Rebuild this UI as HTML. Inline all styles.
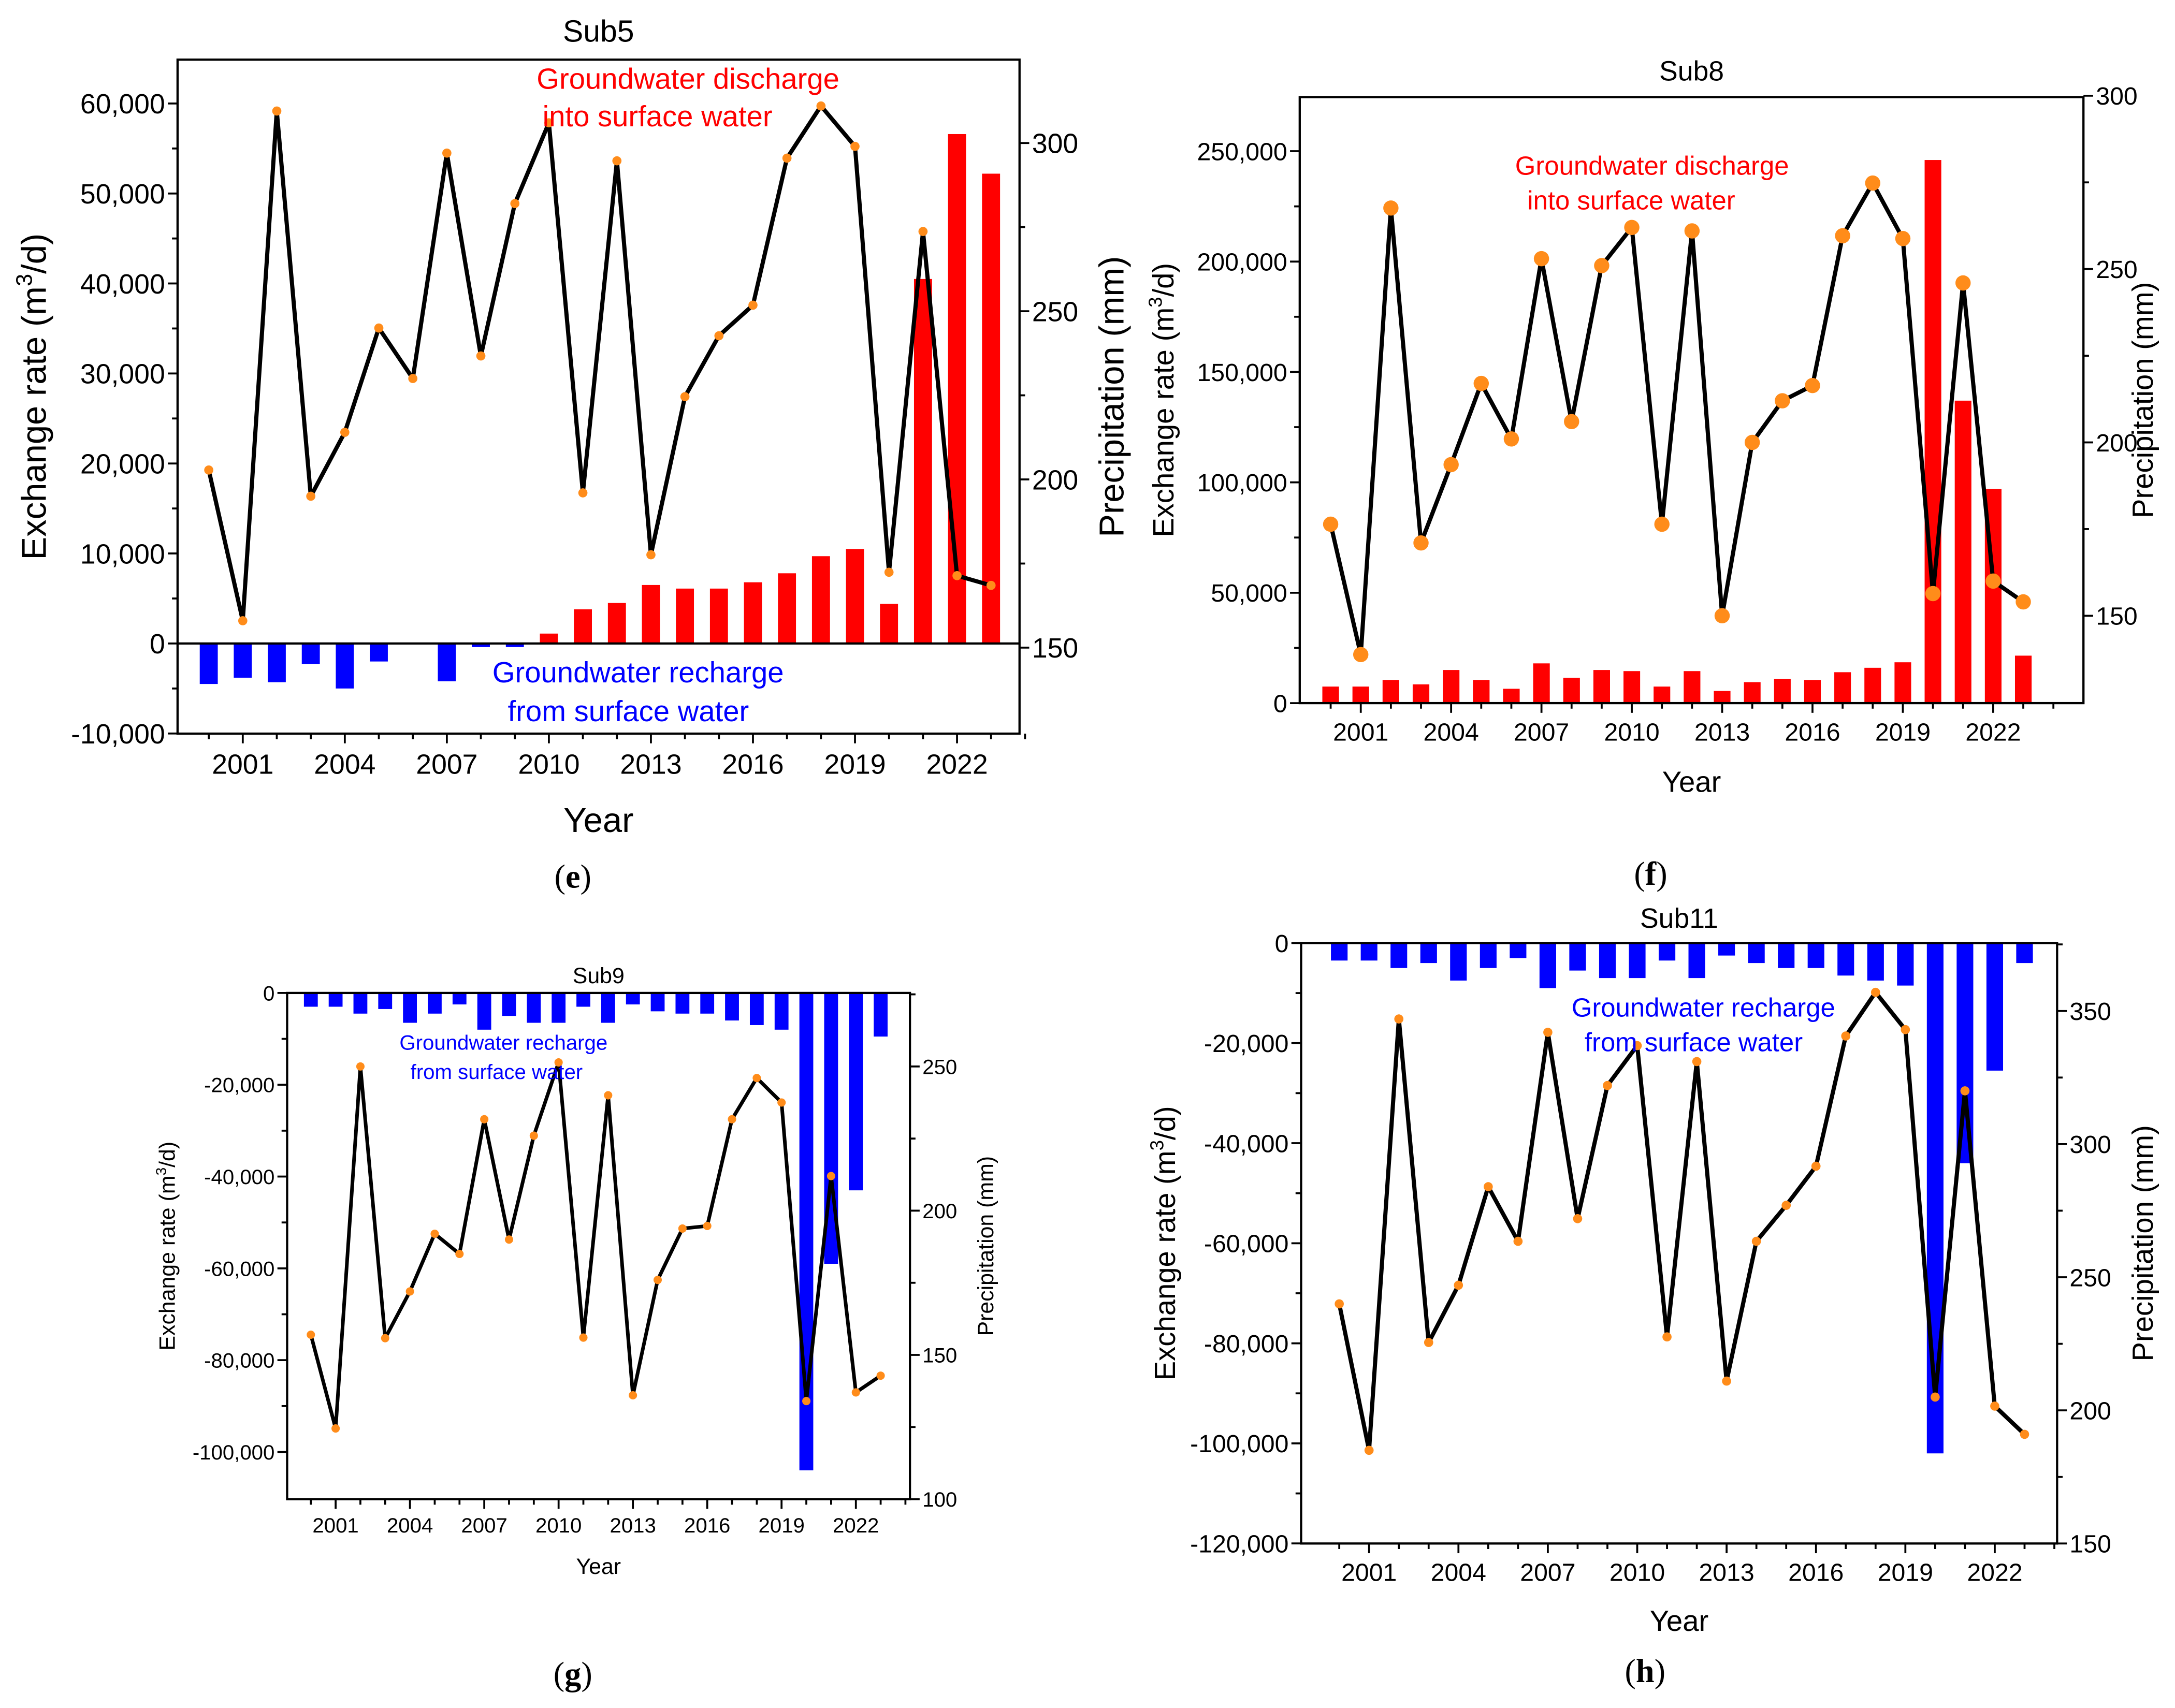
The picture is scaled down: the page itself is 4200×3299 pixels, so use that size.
<!DOCTYPE html>
<html><head><meta charset="utf-8">
<style>
html,body{margin:0;padding:0;background:#fff;}
svg{display:block;}
text{font-family:"Liberation Sans Narrow","Liberation Sans",sans-serif;}
.ttl{font-family:"Liberation Sans",sans-serif;}
.lab{font-family:"Liberation Serif",serif;}
</style></head>
<body>
<svg id="fig" xmlns="http://www.w3.org/2000/svg" width="4200" height="3299" viewBox="0 0 1568 1231.6">
<rect x="0" y="0" width="1568" height="1232" fill="#fff"/>
</svg>
<script>
const years = [2000,2001,2002,2003,2004,2005,2006,2007,2008,2009,2010,2011,2012,2013,2014,2015,2016,2017,2018,2019,2020,2021,2022,2023];
const xTickYears = [2001,2004,2007,2010,2013,2016,2019,2022];

const sub5Exchange = [-4500,-3800,-4300,-2300,-5000,-2000,100,-4200,-400,-400,1100,3800,4500,6500,6100,6100,6800,7800,9700,10500,4400,40500,56600,52200];
const sub5Precip = [202.8,158,309.5,195,214,245,230,297,236.7,282,306,196,294.7,177.6,224.6,242.7,251.8,295.5,311,299,172.4,273.7,171.4,168.5];
const sub5LeftTicks = [-10000,0,10000,20000,30000,40000,50000,60000];
const sub5RightTicks = [150,200,250,300];

const sub8Exchange = [7500,7500,10500,8500,15000,10500,6500,18000,11500,15000,14500,7500,14500,5500,9500,11000,10500,14000,16000,18500,246000,137000,97000,21500];
const sub8Precip = [176.4,138.8,267.6,171,193.6,217,201,253,206,251,262,176.4,261,150,200,212,216.4,259.6,274.8,258.8,156.4,246,160,154];
const sub8LeftTicks = [0,50000,100000,150000,200000,250000];
const sub8RightTicks = [150,200,250,300];

const sub9Exchange = [-3000,-3000,-4500,-3500,-6500,-4500,-2500,-8000,-5000,-6500,-6500,-3000,-6500,-2500,-4000,-4500,-4500,-6000,-7000,-8000,-104000,-59000,-43000,-9500];
const sub9Precip = [157,124.5,250,155.8,172,192,185,231.7,190,226,251.4,156,240,136,176,193.8,194.7,231.7,246,237.5,134,212,137,142.8];
const sub9LeftTicks = [-100000,-80000,-60000,-40000,-20000,0];
const sub9RightTicks = [100,150,200,250];

const sub11Exchange = [-3500,-3500,-5000,-4000,-7500,-5000,-3000,-9000,-5500,-7000,-7000,-3500,-7000,-2500,-4000,-5000,-5000,-6500,-7500,-8500,-102000,-44000,-25500,-4000];
const sub11Precip = [240,185,347,225.5,247,284,263.5,342,272,322,337,227.6,331,211,263.5,277,291.7,340.6,357,343,205,320,201.6,191];
const sub11LeftTicks = [-120000,-100000,-80000,-60000,-40000,-20000,0];
const sub11RightTicks = [150,200,250,300,350];

const NS='http://www.w3.org/2000/svg';
const svg=document.getElementById('fig');
function mk(tag,attrs,parent,txt){const e=document.createElementNS(NS,tag);for(const k in attrs)e.setAttribute(k,attrs[k]);if(txt!==undefined)e.textContent=txt;(parent||svg).appendChild(e);return e;}
function fmt(v){return v.toLocaleString('en-US');}

function panel(c){
  const g=mk('g',{});
  
  
  const xS=y=>c.x0+(y-2000)*c.dx;
  const yL=v=>c.yZero-(v/1000)*c.pxPerK;
  const yR=v=>c.rBase-(v-c.rBaseVal)*c.pxPerUnit;
  c.exch.forEach((v,i)=>{
    const x=xS(years[i]);const y0=yL(0),y1=yL(v);
    const b=mk('rect',{x:x-c.bw/2,y:Math.min(y0,y1),width:c.bw,height:Math.max(0.5,Math.abs(y1-y0)),fill:v>=0?'#ff0000':'#0000ff'},g);
    
    
  });
  const fr=mk('rect',{x:c.L,y:c.T,width:c.R-c.L,height:c.B-c.T,fill:'none',stroke:'#000','stroke-width':1.6},g);
  
  
  if(c.zeroLine){mk('line',{x1:c.L,x2:c.R,y1:yL(0),y2:yL(0),stroke:'#000','stroke-width':1.6},g);}
  years.forEach(y=>{const x=xS(y);const maj=xTickYears.includes(y);
    mk('line',{x1:x,x2:x,y1:c.B,y2:c.B+(maj?7:4),stroke:'#000','stroke-width':1.4},g);});
  if(c.xMinorEnd) mk('line',{x1:xS(2024),x2:xS(2024),y1:c.B,y2:c.B+4,stroke:'#000','stroke-width':1.4},g);
  xTickYears.forEach(y=>{const t=mk('text',{x:xS(y),y:c.B+c.tfs+9,'font-size':c.tfs,'text-anchor':'middle'},g,String(y));
    });
  c.lt.forEach((v,i)=>{const y=yL(v);
    mk('line',{x1:c.L-7,x2:c.L,y1:y,y2:y,stroke:'#000','stroke-width':1.4},g);
    if(i<c.lt.length-1){const ym=yL(v+(c.lt[1]-c.lt[0])/2);if(ym>c.T)mk('line',{x1:c.L-4,x2:c.L,y1:ym,y2:ym,stroke:'#000','stroke-width':1.4},g);}
    const t=mk('text',{x:c.L-9,y:y+c.tfs*0.36,'font-size':c.tfs,'text-anchor':'end'},g,fmt(v));
    });
  c.rt.forEach((v,i)=>{const y=yR(v);
    mk('line',{x1:c.R,x2:c.R+7,y1:y,y2:y,stroke:'#000','stroke-width':1.4},g);
    const ym=yR(v+(c.rt[1]-c.rt[0])/2);if(ym>c.T)mk('line',{x1:c.R,x2:c.R+4,y1:ym,y2:ym,stroke:'#000','stroke-width':1.4},g);
    const t=mk('text',{x:c.R+9,y:y+c.tfs*0.36,'font-size':c.tfs},g,String(v));
    });
  const pts=c.prec.map((v,i)=>xS(years[i])+','+yR(v)).join(' ');
  const pl=mk('polyline',{points:pts,fill:'none',stroke:'#000','stroke-width':c.lw,'stroke-linejoin':'round'},g);
  
  
  c.prec.forEach((v,i)=>{const p=mk('circle',{cx:xS(years[i]),cy:yR(v),r:c.pr,fill:'#ff8c1a'},g);
    
    });
  const tt=mk('text',{x:(c.L+c.R)/2,y:c.titleY,'font-size':c.titleFs,'text-anchor':'middle',class:'ttl'},g,c.title);
  
  const yl=mk('text',{transform:`translate(${c.ylX},${(c.T+c.B)/2}) rotate(-90)`,'font-size':c.afs,'text-anchor':'middle',class:'ttl'},g);
  
  mk('tspan',{},yl,'Exchange rate (m');mk('tspan',{'font-size':c.afs*0.65,dy:-c.afs*0.4},yl,'3');mk('tspan',{dy:c.afs*0.4},yl,'/d)');
  const yr=mk('text',{transform:`translate(${c.yrX},${(c.T+c.B)/2}) rotate(-90)`,'font-size':c.afs,'text-anchor':'middle',class:'ttl'},g,'Precipitation (mm)');
  
  const xl=mk('text',{x:(c.L+c.R)/2,y:c.xlY,'font-size':c.afs,'text-anchor':'middle',class:'ttl'},g,'Year');
  
  c.notes.forEach(n=>{const t=mk('text',{x:n[0],y:n[1],'font-size':c.nfs,'text-anchor':'middle',fill:n[3],class:'ttl'},g,n[2]);
    });
  const pl2=mk('text',{x:c.labX,y:c.labY,'font-size':24,'text-anchor':'middle',class:'lab'},g);
  
  mk('tspan',{},pl2,'(');mk('tspan',{'font-weight':'bold'},pl2,c.lab);mk('tspan',{},pl2,')');
}

panel({name:'sub5',title:'Sub5',exch:sub5Exchange,prec:sub5Precip,lt:sub5LeftTicks,rt:sub5RightTicks,
 L:128,R:735,T:43,B:529,x0:150.5,dx:24.52,yZero:464,pxPerK:6.49,rBase:467,rBaseVal:150,pxPerUnit:2.426,
 bw:13,lw:3,pr:3.3,tfs:20,afs:25,titleFs:22,titleY:30,ylX:33,yrX:810,xlY:600,zeroLine:true,xMinorEnd:true,
 nfs:21,notes:[[496,64,'Groundwater discharge','#ff0000'],[474,91,'into surface water','#ff0000'],[460,492,'Groundwater recharge','#0000ff'],[453,520,'from surface water','#0000ff']],
 labX:413,labY:640,lab:'e'});
panel({name:'sub8',title:'Sub8',exch:sub8Exchange,prec:sub8Precip,lt:sub8LeftTicks,rt:sub8RightTicks,
 L:937,R:1502,T:70,B:507,x0:959.3,dx:21.71,yZero:507,pxPerK:1.592,rBase:444,rBaseVal:150,pxPerUnit:2.5,
 bw:12,lw:3,pr:5.5,tfs:18,afs:21,titleFs:20,titleY:58,ylX:846,yrX:1552,xlY:571,zeroLine:false,xMinorEnd:true,
 nfs:19,notes:[[1191,126,'Groundwater discharge','#ff0000'],[1176,151,'into surface water','#ff0000']],
 labX:1190,labY:638,lab:'f'});
panel({name:'sub9',title:'Sub9',exch:sub9Exchange,prec:sub9Precip,lt:sub9LeftTicks,rt:sub9RightTicks,
 L:207,R:656,T:716,B:1081,x0:224.1,dx:17.86,yZero:716,pxPerK:3.31,rBase:1081,rBaseVal:100,pxPerUnit:2.08,
 bw:10,lw:2.6,pr:3,tfs:15,afs:16,titleFs:16,titleY:709,ylX:126,yrX:716,xlY:1135,zeroLine:false,xMinorEnd:true,
 nfs:15,notes:[[363,757,'Groundwater recharge','#0000ff'],[358,778,'from surface water','#0000ff']],
 labX:413,labY:1215,lab:'g'});
panel({name:'sub11',title:'Sub11',exch:sub11Exchange,prec:sub11Precip,lt:sub11LeftTicks,rt:sub11RightTicks,
 L:938,R:1483,T:680,B:1113,x0:965.5,dx:21.48,yZero:680,pxPerK:3.608,rBase:1113,rBaseVal:150,pxPerUnit:1.92,
 bw:12,lw:3,pr:3.3,tfs:18,afs:21,titleFs:20,titleY:669,ylX:847,yrX:1552,xlY:1176,zeroLine:false,xMinorEnd:true,
 nfs:19,notes:[[1228,733,'Groundwater recharge','#0000ff'],[1221,758,'from surface water','#0000ff']],
 labX:1186,labY:1213,lab:'h'});
</script>
</body></html>
